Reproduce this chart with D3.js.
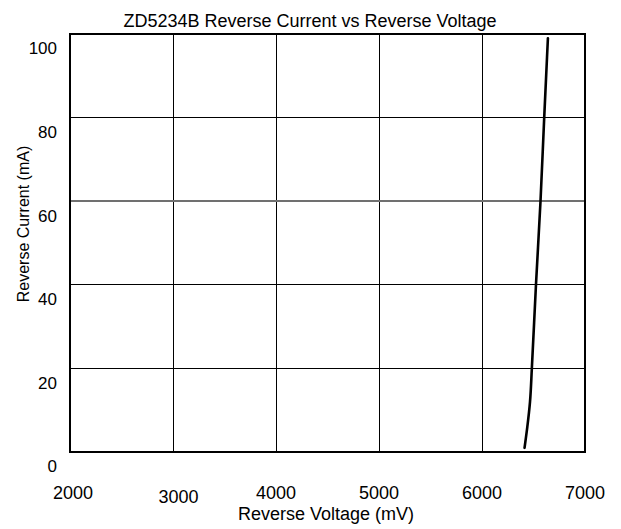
<!DOCTYPE html>
<html>
<head>
<meta charset="utf-8">
<script src="https://cdn.jsdelivr.net/npm/d3@7"></script>
<style>
  html, body { margin: 0; padding: 0; background: #fff; }
  svg { display: block; font-family: "Liberation Sans", Arial, sans-serif; }
</style>
</head>
<body>
<svg id="chart" width="621" height="529"></svg>
<script>
// ---- data ----
const titleText = "ZD5234B Reverse Current vs Reverse Voltage";
const xTitle = "Reverse Voltage (mV)";
const yTitle = "Reverse Current (mA)";
const xTicks = [2000, 3000, 4000, 5000, 6000, 7000];
const yTicks = [0, 20, 40, 60, 80, 100];
const voltage = [6413, 6440, 6466, 6484, 6524, 6568, 6604, 6640];
const current = [1, 6, 12, 20, 40, 60, 80, 99];

// ---- layout ----
const svg = d3.select("#chart");
const x = d3.scaleLinear().domain([2000, 7000]).range([70, 585]);
const y = d3.scaleLinear().domain([0, 100]).range([452, 34]);

// grid lines
svg.append("g").selectAll("line").data(xTicks.slice(1, -1)).join("line")
  .attr("x1", d => x(d)).attr("x2", d => x(d))
  .attr("y1", y(100)).attr("y2", y(0))
  .attr("stroke", "#000").attr("stroke-width", 1).attr("shape-rendering", "crispEdges");
svg.append("g").selectAll("line").data(yTicks.slice(1, -1)).join("line")
  .attr("x1", x(2000)).attr("x2", x(7000))
  .attr("y1", d => y(d)).attr("y2", d => y(d))
  .attr("stroke", d => d === 60 ? "#707070" : "#000")
  .attr("stroke-width", d => d === 60 ? 1.5 : 1)
  .attr("shape-rendering", "crispEdges");

// frame
svg.append("rect")
  .attr("x", x(2000)).attr("y", y(100))
  .attr("width", x(7000) - x(2000)).attr("height", y(0) - y(100))
  .attr("fill", "none").attr("stroke", "#000").attr("stroke-width", 2);

// curve
const pts = voltage.map((v, i) => [v, current[i]]);
svg.append("path")
  .datum(pts)
  .attr("d", d3.line().x(d => x(d[0])).y(d => y(d[1])).curve(d3.curveMonotoneY))
  .attr("fill", "none").attr("stroke", "#000").attr("stroke-width", 2.6)
  .attr("stroke-linecap", "round");

// x tick labels
const xNudge = {2000: [3, 0], 3000: [5.5, 4]};
svg.append("g").selectAll("text").data(xTicks).join("text")
  .attr("x", d => x(d) + (xNudge[d] ? xNudge[d][0] : 0))
  .attr("y", d => 499 + (xNudge[d] ? xNudge[d][1] : 0))
  .attr("text-anchor", "middle")
  .attr("font-size", 18).attr("fill", "#000")
  .text(d => d);

// y tick labels
svg.append("g").selectAll("text").data(yTicks).join("text")
  .attr("x", 57)
  .attr("y", d => y(d) + 14.5)
  .attr("dy", "0.35em")
  .attr("text-anchor", "end")
  .attr("font-size", 17).attr("fill", "#000")
  .text(d => d);

// titles
svg.append("text")
  .attr("x", 310).attr("y", 27)
  .attr("text-anchor", "middle").attr("font-size", 18).attr("fill", "#000")
  .text(titleText);
svg.append("text")
  .attr("x", 326).attr("y", 520)
  .attr("text-anchor", "middle").attr("font-size", 18).attr("fill", "#000")
  .text(xTitle);
svg.append("text")
  .attr("transform", "translate(29,224) rotate(-90)")
  .attr("text-anchor", "middle").attr("font-size", 16).attr("fill", "#000")
  .text(yTitle);
</script>
</body>
</html>
